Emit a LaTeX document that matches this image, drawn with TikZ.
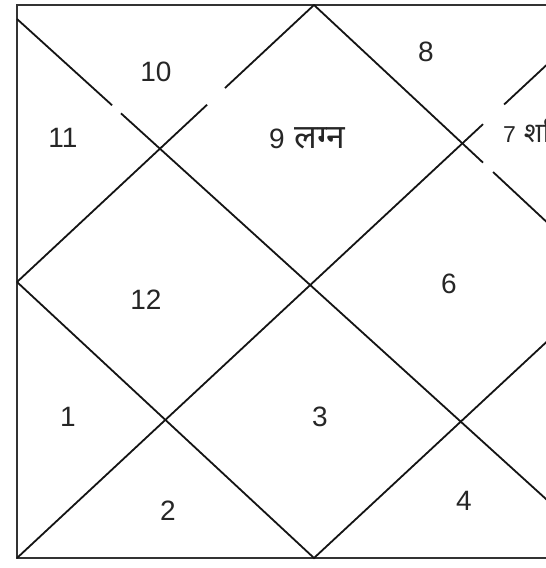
\documentclass[tikz,border=0pt]{standalone}
\usepackage{fontspec}
\setmainfont{Liberation Sans}
\newfontfamily\deva[Script=Devanagari,Scale=1.2]{Noto Sans}
\usetikzlibrary{calc}
\begin{document}
\begin{tikzpicture}[x=1pt,y=-1pt,
  frame/.style={line width=2.5pt, draw=black!80},
  chartline/.style={line width=1.8pt, draw=black!92},
  num/.style={font=\fontsize{28}{30}\selectfont, text=black!85, inner sep=0pt},
  smalllabel/.style={font=\fontsize{23}{26}\selectfont, text=black!85, inner sep=0pt}]
\useasboundingbox (0,0) rectangle (546,568);
\clip (0,0) rectangle (546,568);
\fill[white] (0,0) rectangle (546,568);
% corners and diamond vertices
\coordinate (TL) at (17,5);
\coordinate (TR) at (611,5);
\coordinate (BL) at (17,558);
\coordinate (BR) at (611,558);
\coordinate (TLs) at (17,19);
\coordinate (T) at (314,5);
\coordinate (L) at (17,282);
\coordinate (B) at (314,558);
\coordinate (R) at (611,282);
% outer frame
\draw[frame] (TL) rectangle (BR);
% diagonals (with gaps where labels once sat)
\draw[chartline] (TLs) -- ($(TLs)!0.160!(BR)$) ($(TLs)!0.175!(BR)$) -- (BR);
\draw[chartline] (TR) -- ($(TR)!0.180!(BL)$) ($(TR)!0.2155!(BL)$) -- (BL);
% diamond
\draw[chartline] (T) -- ($(T)!0.2997!(L)$) ($(T)!0.360!(L)$) -- (L);
\draw[chartline] (T) -- ($(T)!0.569!(R)$) ($(T)!0.603!(R)$) -- (R);
\draw[chartline] (R) -- (B) -- (L);
% house labels
\node[num] (h10) at (156,72) {10};
\node[num] (h8) at (426,52) {8};
\node[num] (h11) at (63,138) {11};
\node[num, anchor=base west] (h9) at (269,148) {9\hspace{10pt}{\deva लग्न}};
\node[smalllabel, anchor=base west] (h7) at (503,142) {7\hspace{8pt}{\deva शनि}};
\node[num] (h12) at (146,300) {12};
\node[num] (h6) at (449,284) {6};
\node[num] (h1) at (68,417) {1};
\node[num] (h3) at (320,417) {3};
\node[num] (h2) at (168,511) {2};
\node[num] (h4) at (464,501) {4};
\end{tikzpicture}
\end{document}
